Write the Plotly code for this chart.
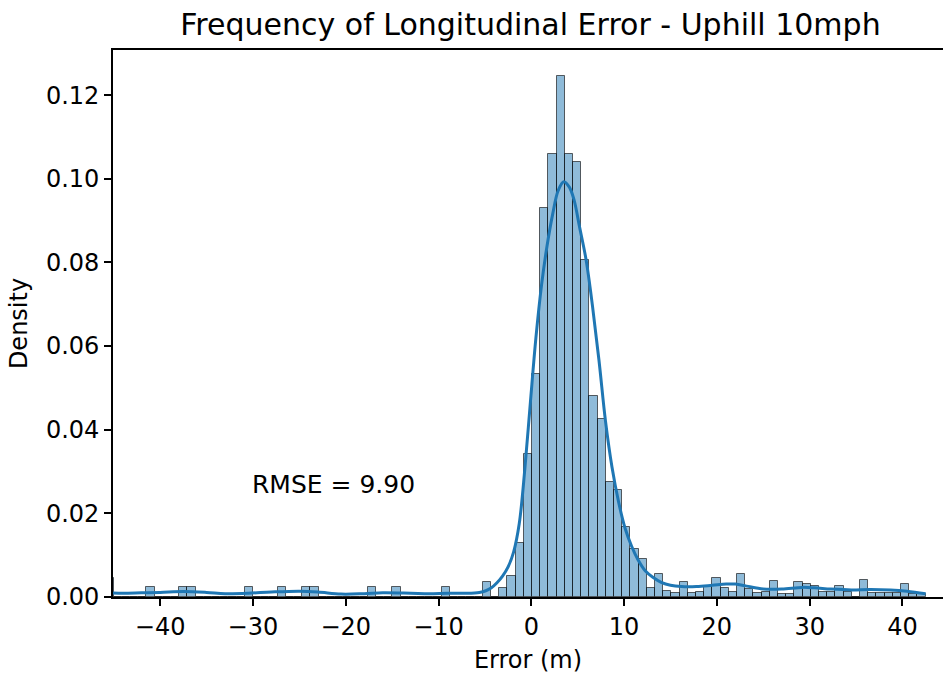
import numpy as np
import plotly.graph_objects as go

# ---- data ----
data_min = -45.9
data_max = 42.5
n_bins = 100

# histogram density per bin (left to right)
density = [
    0.0045, 0, 0, 0, 0,             # -52 .. -48
    0.0025, 0, 0, 0,                # -47 .. -44
    0.0025, 0.0025, 0, 0, 0, 0, 0, 0,  # -43 .. -36
    0.0025, 0, 0, 0,                # -35 .. -32
    0.0025, 0, 0,                   # -31 .. -29
    0.0025, 0.0025, 0, 0, 0, 0, 0, 0,  # -28 .. -21
    0.0025, 0, 0,                   # -20 .. -18
    0.0025, 0, 0, 0, 0, 0,          # -17 .. -12
    0.0025, 0, 0, 0, 0,             # -11 .. -7
    0.0035, 0, 0.0021, 0.0050, 0.0128, 0.0343,   # -6 .. -1
    0.0533, 0.0931, 0.1060, 0.1245, 0.1060, 0.1041, 0.0807,  # 0 .. 6
    0.0481, 0.0426, 0.0275, 0.0255, 0.0167, 0.0114, 0.0092,  # 7 .. 13
    0.0021, 0.0055, 0.0015, 0.0009, 0.0035, 0.0010, 0.0013,  # 14 .. 20
    0.0025, 0.0045, 0.0021, 0.0011, 0.0054, 0.0018, 0.0009,  # 21 .. 27
    0.0011, 0.0039, 0.0008, 0.0008, 0.0035, 0.0030, 0.0026,  # 28 .. 34
    0.0013, 0.0013, 0.0026, 0.0011, 0.0, 0.0041, 0.0009,     # 35 .. 41
    0.0009, 0.0009, 0.0009, 0.0031, 0.0008, 0.0008,          # 42 .. 47
]

# KDE curve read at points
kde_x = [-45.9, -44, -42, -40, -37.5, -35, -33, -30.5, -28, -25, -23, -20.5,
         -18, -16, -13, -11, -9, -7, -5.6, -4.9, -4.3, -3.7, -3.1, -2.5,
         -1.9, -1.3, -0.7, -0.1, 0.5, 1.1, 1.7, 2.3, 2.9, 3.5, 4.1,
         4.6, 5.2, 5.9, 6.6, 7.3, 8.0, 8.7, 9.4, 10.1, 10.8, 11.5, 12.3,
         13.1, 14.0, 15.0, 16.2, 17.8, 19.5, 21.0, 22.0, 23.2, 25.0, 27.0,
         29.2, 30.5, 32.3, 34.5, 36.5, 38.7, 40.5, 42.5]
kde_y = [0.0010, 0.0009, 0.0010, 0.0011, 0.0013, 0.0011, 0.0008, 0.0009,
         0.0012, 0.0014, 0.0012, 0.0007, 0.0008, 0.0010, 0.0009, 0.0008,
         0.0009, 0.0009, 0.0011, 0.0015, 0.0022, 0.0034, 0.0050, 0.0072,
         0.0108, 0.0175, 0.0305, 0.0465, 0.0620, 0.0745, 0.0840, 0.0915,
         0.0972, 0.0993, 0.0980, 0.0950, 0.0885, 0.0807, 0.0695, 0.0565,
         0.0420, 0.0310, 0.0228, 0.0165, 0.0122, 0.0089, 0.0062, 0.0047,
         0.0035, 0.0028, 0.0025, 0.0025, 0.0028, 0.0031, 0.0031, 0.0026,
         0.0019, 0.0019, 0.0023, 0.0022, 0.0019, 0.0017, 0.0018, 0.0017,
         0.0014, 0.0008]

x_ticks = [-40, -30, -20, -10, 0, 10, 20, 30, 40]
x_ticktext = ["\u221240", "\u221230", "\u221220", "\u221210", "0", "10", "20", "30", "40"]
y_ticks = [0.0, 0.02, 0.04, 0.06, 0.08, 0.10, 0.12]
y_ticktext = ["0.00", "0.02", "0.04", "0.06", "0.08", "0.10", "0.12"]

title = "Frequency of Longitudinal Error - Uphill 10mph"
rmse_text = "RMSE = 9.90"

# ---- figure ----
edges = np.linspace(data_min, data_max, n_bins + 1)
centers = (edges[:-1] + edges[1:]) / 2
bin_w = edges[1] - edges[0]

FONT = "DejaVu Sans, Liberation Sans, sans-serif"

fig = go.Figure()
fig.add_trace(go.Bar(
    x=centers, y=density, width=bin_w,
    marker=dict(color="rgba(31,119,180,0.5)",
                line=dict(color="rgba(0,0,0,0.6)", width=1)),
    showlegend=False, hoverinfo="skip",
))
fig.add_trace(go.Scatter(
    x=kde_x, y=kde_y, mode="lines",
    line=dict(color="#1f77b4", width=3, shape="spline", smoothing=1.0),
    showlegend=False, hoverinfo="skip",
))

fig.add_annotation(
    x=-30, y=0.0268, xref="x", yref="y", text=rmse_text,
    showarrow=False, xanchor="left", yanchor="middle", xshift=-3,
    font=dict(family=FONT, size=25, color="black"),
)

fig.update_layout(
    width=943, height=677,
    margin=dict(l=113, r=0, t=50, b=80),
    paper_bgcolor="white", plot_bgcolor="white",
    bargap=0,
    font=dict(family=FONT, color="black"),
    title=dict(text=title, x=0.503, xref="paper", xanchor="center",
               y=1 - 24 / 677, yref="container", yanchor="middle",
               font=dict(family=FONT, size=30, color="black")),
)
fig.update_xaxes(
    range=[-45.08, 44.37], tickmode="array", tickvals=x_ticks, ticktext=x_ticktext,
    ticks="outside", ticklen=7, tickwidth=1.6, tickcolor="black",
    showline=True, linecolor="black", linewidth=1.6, mirror=True,
    showgrid=False, zeroline=False,
    tickfont=dict(family=FONT, size=24, color="black"),
    title=dict(text="Error (m)", font=dict(family=FONT, size=24, color="black"), standoff=12),
)
fig.update_yaxes(
    range=[0, 0.1308], tickmode="array", tickvals=y_ticks, ticktext=y_ticktext,
    ticks="outside", ticklen=7, tickwidth=1.6, tickcolor="black",
    showline=True, linecolor="black", linewidth=1.6, mirror=False,
    showgrid=False, zeroline=False,
    tickfont=dict(family=FONT, size=24, color="black"),
    title=dict(text="Density", font=dict(family=FONT, size=24, color="black"), standoff=12),
)

fig.write_html("out.html")
